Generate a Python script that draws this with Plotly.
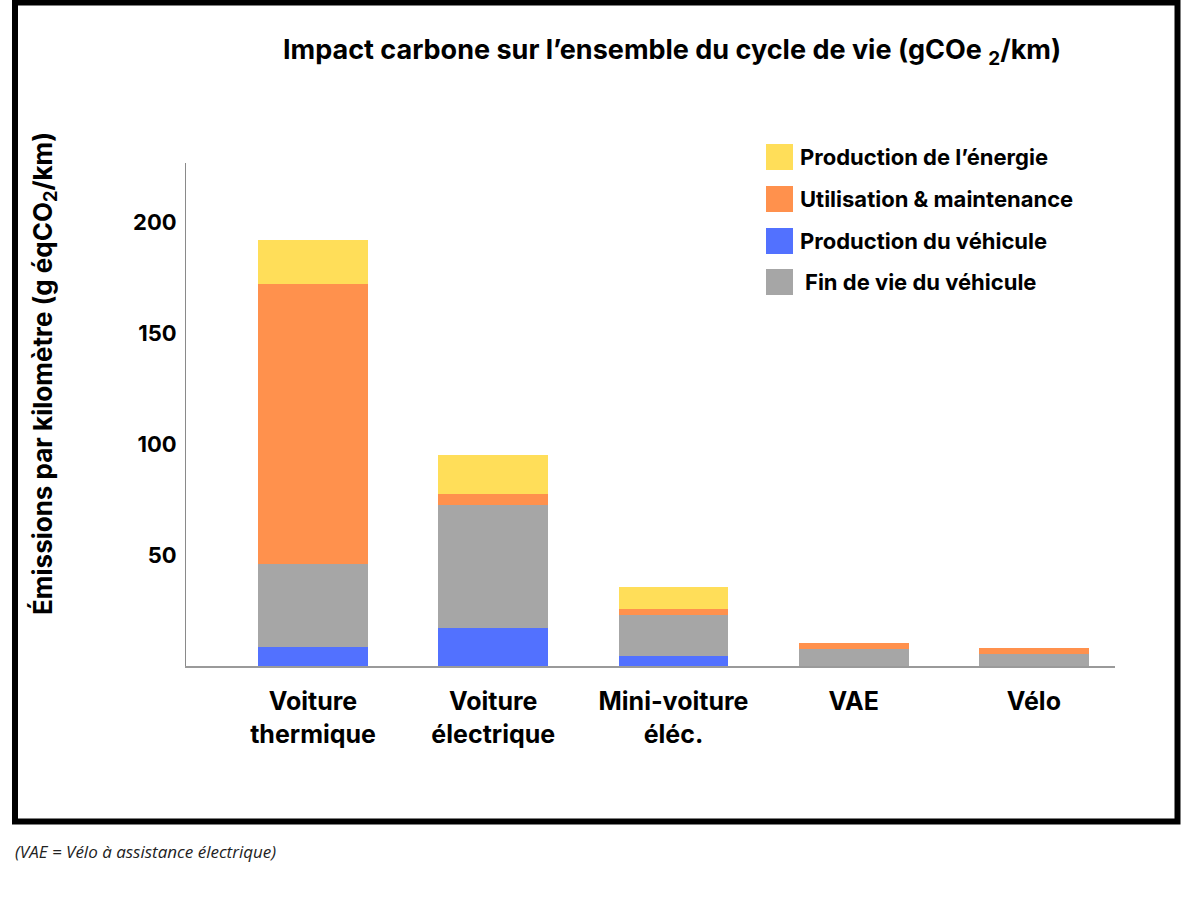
import plotly.graph_objects as go

# ---------------- data ----------------
categories = ["Voiture<br>thermique", "Voiture<br>électrique", "Mini-voiture<br>éléc.", "VAE", "Vélo"]
production_vehicule = [8.6, 16.9, 4.5, 0.0, 0.0]
fin_de_vie = [37.4, 55.7, 18.3, 7.7, 5.4]
utilisation_maintenance = [125.9, 5.0, 2.9, 2.7, 2.9]
production_energie = [20.0, 17.5, 9.9, 0.0, 0.0]

series_names = ["Production du véhicule", "Fin de vie du véhicule",
                "Utilisation & maintenance", "Production de l’énergie"]
series_values = [production_vehicule, fin_de_vie, utilisation_maintenance, production_energie]
series_colors = ["#5271FF", "#A6A6A6", "#FF914D", "#FFDE59"]
legend_order = ["Production de l’énergie", "Utilisation & maintenance",
                "Production du véhicule", "Fin de vie du véhicule"]
y_ticks = [50, 100, 150, 200]

title_text = "Impact carbone sur l’ensemble du cycle de vie (gCOe <sub>2</sub>/km)"
y_title = "Émissions par kilomètre (g éqCO<sub>2</sub>/km)"
footnote = "(VAE = Vélo à assistance électrique)"

# ---------------- layout helpers ----------------
W, H = 1200, 900
ML, MR, MT, MB = 186, 85, 163, 234
PW, PH = W - ML - MR, H - MT - MB


def px(x):
    return (x - ML) / PW


def py(y):
    return (H - MB - y) / PH


FONT = "Inter"

fig = go.Figure()
for name, vals, col in zip(series_names, series_values, series_colors):
    fig.add_trace(go.Bar(x=categories, y=vals, name=name,
                         marker=dict(color=col, line=dict(width=0)),
                         showlegend=False))

fig.update_layout(
    width=W, height=H,
    barmode="stack", bargap=0.39,
    plot_bgcolor="white", paper_bgcolor="white",
    margin=dict(l=ML, r=MR, t=MT, b=MB),
    font=dict(family=FONT, color="black"),
    showlegend=False,
)
fig.update_xaxes(
    range=[-0.705, 4.45], showline=True, linecolor="#9a9a9a", linewidth=2,
    ticks="", showgrid=False, zeroline=False,
    tickfont=dict(family=FONT, size=25, weight="bold", color="black"),
    ticklabelstandoff=12,
)
fig.update_yaxes(
    range=[0, 226.6], showline=True, linecolor="#8a8a8a", linewidth=1,
    tickvals=y_ticks, ticks="", showgrid=False, zeroline=False,
    tickfont=dict(family=FONT, size=22, weight="bold", color="black"),
    ticklabelstandoff=4,
)

annotations = [
    dict(text=title_text, x=px(672), y=py(52), xref="paper", yref="paper",
         showarrow=False, xanchor="center", yanchor="middle",
         font=dict(family=FONT, size=27, weight="bold", color="black")),
    dict(text=y_title, x=px(44), y=py(374), xref="paper", yref="paper",
         showarrow=False, xanchor="center", yanchor="middle", textangle=-90,
         font=dict(family=FONT, size=26, weight="bold", color="black")),
    dict(text=footnote, x=px(13), y=py(851), xref="paper", yref="paper",
         showarrow=False, xanchor="left", yanchor="middle",
         font=dict(family="Open Sans", size=17, style="italic", color="#222222")),
]

shapes = [
    dict(type="rect", xref="paper", yref="paper",
         x0=px(15), x1=px(1177.5), y0=py(2.5), y1=py(821.5),
         line=dict(color="black", width=6), fillcolor="rgba(0,0,0,0)", layer="above"),
]

# manual legend (large square swatches)
leg_y = [157, 199, 241, 282]
for i, nm in enumerate(legend_order):
    col = series_colors[series_names.index(nm)]
    yc = leg_y[i]
    shapes.append(dict(type="rect", xref="paper", yref="paper",
                       x0=px(766), x1=px(793), y0=py(yc + 13), y1=py(yc - 13),
                       line=dict(width=0), fillcolor=col))
    annotations.append(dict(text=nm, x=px(798 if i < 3 else 803), y=py(yc),
                            xref="paper", yref="paper", showarrow=False,
                            xanchor="left", yanchor="middle",
                            font=dict(family=FONT, size=22, weight="bold", color="black")))

fig.update_layout(annotations=annotations, shapes=shapes)

fig.write_html("out.html", config={"displayModeBar": False},
               post_script="document.body.style.margin='0';")
